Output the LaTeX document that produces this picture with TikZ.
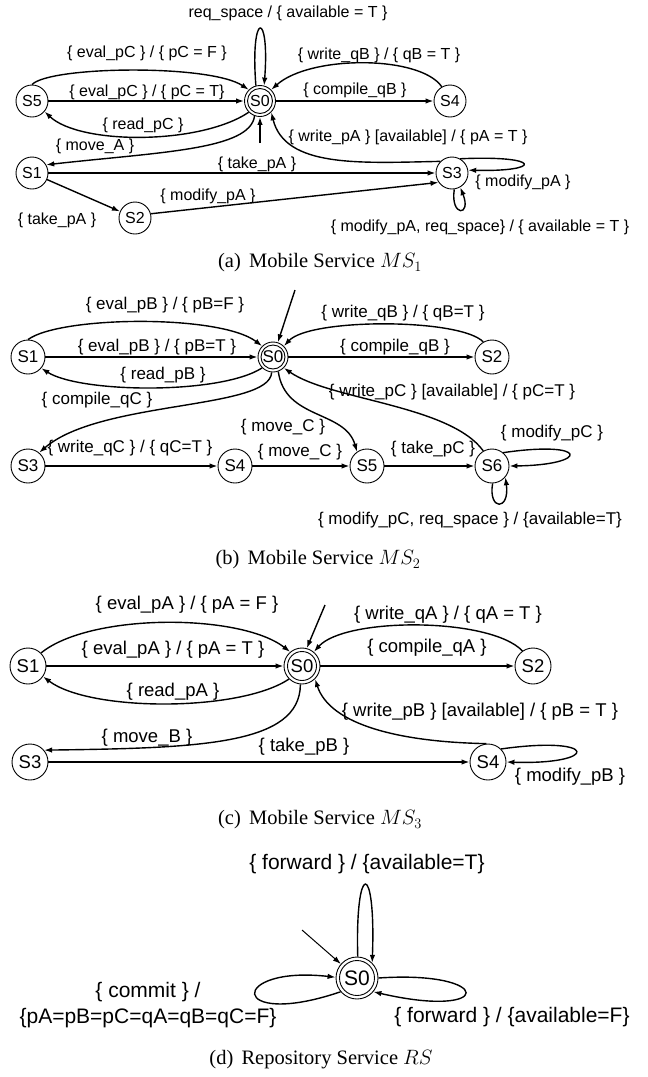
\documentclass[tikz,border=0pt]{standalone}
\usepackage{fontspec}
\setmainfont{Liberation Sans}
\newfontfamily\capfont{Liberation Serif}
\usetikzlibrary{arrows.meta}
\begin{document}
\begin{tikzpicture}[x=1pt,y=-1pt,
  >={Latex[length=8pt,width=5.5pt]},
  edge/.style={->,line width=1.4pt},
  thinedge/.style={->,line width=1pt},
  ring/.style={line width=0.9pt},
  st/.style={circle,draw,line width=0.9pt,inner sep=0pt},
  fa/.style={font=\fontsize{16}{19}\selectfont},
  fb/.style={font=\fontsize{17}{20}\selectfont},
  fc/.style={font=\fontsize{18.5}{22}\selectfont},
  fd/.style={font=\fontsize{21}{26}\selectfont},
  sa/.style={st,fa,minimum size=32pt},
  s0a/.style={st,fa,minimum size=31pt},
  sb/.style={st,fb,minimum size=34pt},
  s0b/.style={st,fb,minimum size=30pt},
  sc/.style={st,fc,minimum size=36pt},
  s0c/.style={st,fc,minimum size=36pt},
  s0d/.style={st,fd,minimum size=42pt},
  captxt/.style={font=\capfont\fontsize{20.5}{24}\selectfont}
]
\useasboundingbox (0,0) rectangle (648,1077);

% ---------------- (a) ----------------
\node[s0a] (a0) at (260,101) {S0};
\draw[ring] (a0.center) circle (12.5pt);
\node[sa] (a5) at (32,101) {S5};
\node[sa] (a4) at (450,101) {S4};
\node[sa] (a1) at (32,173) {S1};
\node[sa] (a3) at (452,173) {S3};
\node[sa] (a2) at (135,218) {S2};
\coordinate (a0in) at (260,143);

\draw[edge] (a0.105) .. controls (250,10) and (270,10) .. (a0.75);
\draw[edge] (a5.north) .. controls (50,66) and (210,64) .. (a0.135);
\draw[edge] (a5) -- (a0);
\draw[edge] (a0.225) .. controls (200,145) and (80,145) .. (a5.-40);
\draw[edge] (a0.250) .. controls (250,150) and (160,152) .. (a1.30);
\draw[edge] (a0in) -- (a0.south);
\draw[edge] (a1) -- (a3);
\draw[edge] (a1) -- (a2);
\draw[edge] (a2.15) -- (a3.215);
\draw[edge] (a4.120) .. controls (420,55) and (310,55) .. (a0.45);
\draw[edge] (a0) -- (a4);
\draw[edge] (a3.135) .. controls (360,163) and (285,168) .. (a0.-45);
\draw[edge] (a3.60) .. controls (543,155) and (543,172) .. (a3.10);
\draw[edge] (a3.278) .. controls (450,217) and (472,217) .. (a3.300);

\node[fa] (la1) at (288,13) {req\_space / \{ available = T \}};
\node[fa] (la2) at (147,53) {\{ eval\_pC \} / \{ pC = F \}};
\node[fa] (la3) at (147,92) {\{ eval\_pC \} / \{ pC = T\}};
\node[fa] (la4) at (143,125) {\{ read\_pC \}};
\node[fa] (la5) at (95,146) {\{ move\_A \}};
\node[fa] (la6) at (257,164) {\{ take\_pA \}};
\node[fa] (la7) at (208,196) {\{ modify\_pA \}};
\node[fa] (la8) at (57,220) {\{ take\_pA \}};
\node[fa] (la9) at (379,55) {\{ write\_qB \} / \{ qB = T \}};
\node[fa] (la10) at (355,90) {\{ compile\_qB \}};
\node[fa] (la11) at (408,137) {\{ write\_pA \} [available] / \{ pA = T \}};
\node[fa] (la12) at (523,182) {\{ modify\_pA \}};
\node[fa] (la13) at (480,227) {\{ modify\_pA, req\_space\} / \{ available = T \}};
\node[captxt] (ca) at (320,263) {(a)\hspace{0.4em}Mobile Service $MS_1$};

% ---------------- (b) ----------------
\node[s0b] (b0) at (273,357) {S0};
\draw[ring] (b0.center) circle (12pt);
\node[sb] (b1) at (28,357) {S1};
\node[sb] (b2) at (492,357) {S2};
\node[sb] (b3) at (28,466) {S3};
\node[sb] (b4) at (235,466) {S4};
\node[sb] (b5) at (367,466) {S5};
\node[sb] (b6) at (492,466) {S6};
\coordinate (b0in) at (295,290);

\draw[edge] (b0in) -- (b0);
\draw[edge] (b1.north) .. controls (60,316) and (220,314) .. (b0.135);
\draw[edge] (b1) -- (b0);
\draw[edge] (b0.225) .. controls (220,395) and (80,393) .. (b1.-40);
\draw[edge] (b0.265) .. controls (270,410) and (100,400) .. (b3.50);
\draw[edge] (b3) -- (b4);
\draw[edge] (b0.290) .. controls (285,420) and (345,410) .. (b5.125);
\draw[edge] (b4) -- (b5);
\draw[edge] (b5) -- (b6);
\draw[edge] (b0) -- (b2);
\draw[edge] (b2.120) .. controls (460,318) and (310,318) .. (b0.45);
\draw[edge] (b6.120) .. controls (450,405) and (330,400) .. (b0.-45);
\draw[edge] (b6.50) .. controls (590,440) and (590,465) .. (b6.0);
\draw[edge] (b6.272) .. controls (488,511) and (510,511) .. (b6.-40);

\node[fb] (lb1) at (165,305) {\{ eval\_pB \} / \{ pB=F \}};
\node[fb] (lb2) at (157,347) {\{ eval\_pB \} / \{ pB=T \}};
\node[fb] (lb3) at (163,375) {\{ read\_pB \}};
\node[fb] (lb4) at (97,400) {\{ compile\_qC \}};
\node[fb] (lb5) at (130,448) {\{ write\_qC \} / \{ qC=T \}};
\node[fb] (lb6) at (283,427) {\{ move\_C \}};
\node[fb] (lb7) at (300,452) {\{ move\_C \}};
\node[fb] (lb8) at (433,449) {\{ take\_pC \}};
\node[fb] (lb9) at (403,313) {\{ write\_qB \} / \{ qB=T \}};
\node[fb] (lb10) at (395,347) {\{ compile\_qB \}};
\node[fb] (lb11) at (452,392) {\{ write\_pC \} [available] / \{ pC=T \}};
\node[fb] (lb12) at (552,433) {\{ modify\_pC \}};
\node[fb] (lb13) at (470,520) {\{ modify\_pC, req\_space \} / \{available=T\}};
\node[captxt] (cb) at (318,560) {(b)\hspace{0.4em}Mobile Service $MS_2$};

% ---------------- (c) ----------------
\node[s0c] (c0) at (302,666) {S0};
\draw[ring] (c0.center) circle (14.5pt);
\node[sc] (c1) at (28,666) {S1};
\node[sc] (c2) at (533,666) {S2};
\node[sc] (c3) at (30,762) {S3};
\node[sc] (c4) at (488,762) {S4};
\coordinate (c0in) at (325,605);

\draw[edge] (c0in) -- (c0.75);
\draw[edge] (c1.45) .. controls (90,613) and (240,613) .. (c0.130);
\draw[edge] (c1) -- (c0);
\draw[edge] (c0.225) .. controls (240,712) and (90,712) .. (c1.-35);
\draw[edge] (c0.265) .. controls (300,745) and (200,748) .. (c3.40);
\draw[edge] (c3) -- (c4);
\draw[edge] (c0) -- (c2);
\draw[edge] (c2.125) .. controls (490,617) and (345,617) .. (c0.50);
\draw[edge] (c4.95) .. controls (400,742) and (330,725) .. (c0.-45);
\draw[edge] (c4.45) .. controls (600,735) and (600,765) .. (c4.0);

\node[fc] (lc1) at (187,605) {\{ eval\_pA \} / \{ pA = F \}};
\node[fc] (lc2) at (173,650) {\{ eval\_pA \} / \{ pA = T \}};
\node[fc] (lc3) at (173,692) {\{ read\_pA \}};
\node[fc] (lc4) at (147,738) {\{ move\_B \}};
\node[fc] (lc5) at (304,747) {\{ take\_pB \}};
\node[fc] (lc6) at (448,615) {\{ write\_qA \} / \{ qA = T \}};
\node[fc] (lc7) at (427,648) {\{ compile\_qA \}};
\node[fc] (lc8) at (480,712) {\{ write\_pB \} [available] / \{ pB = T \}};
\node[fc] (lc9) at (570,777) {\{ modify\_pB \}};
\node[captxt] (cc) at (320,820) {(c)\hspace{0.4em}Mobile Service $MS_3$};

% ---------------- (d) ----------------
\node[s0d] (d0) at (357,978) {S0};
\draw[ring] (d0.center) circle (17.5pt);
\coordinate (d0in) at (302,930);

\draw[thinedge] (d0in) -- (d0);
\draw[edge] (d0.88) .. controls (355,860) and (376,860) .. (d0.45);
\draw[edge] (d0.220) .. controls (228,1030) and (228,965) .. (d0.178);
\draw[edge] (d0.0) .. controls (495,970) and (495,1020) .. (d0.-40);

\node[fd] (ld1) at (367,864) {\{ forward \} / \{available=T\}};
\node[fd,align=center] (ld2) at (148,1005) {\{ commit \} /\\\{pA=pB=pC=qA=qB=qC=F\}};
\node[fd] (ld3) at (512,1017) {\{ forward \} / \{available=F\}};
\node[captxt] (cd) at (321,1060) {(d)\hspace{0.4em}Repository Service $RS$};
\end{tikzpicture}
\end{document}
